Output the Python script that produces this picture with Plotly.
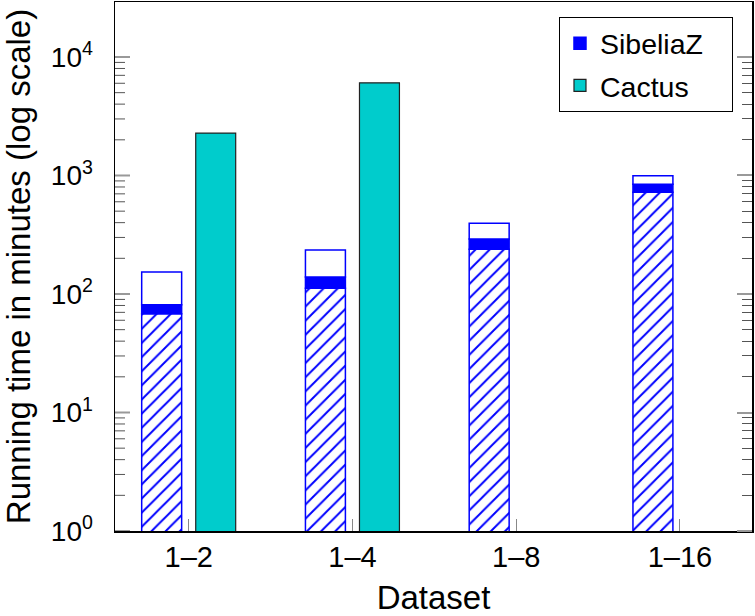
import numpy as np
import plotly.graph_objects as go

datasets = ["1–2", "1–4", "1–8", "1–16"]
sibeliaz_stage1 = [68, 112, 238, 721]   # hatched part
sibeliaz_stage2 = [13, 27, 53, 122]     # solid blue part
sibeliaz_stage3 = [72, 96, 104, 150]    # white part
cactus = [2280, 6050, None, None]

y_tickvals = [1, 10, 100, 1000, 10000]
y_ticktext = ["10<sup>0</sup>", "10<sup>1</sup>", "10<sup>2</sup>", "10<sup>3</sup>", "10<sup>4</sup>"]
y_minor = [m * 10 ** d for d in range(0, 4) for m in range(2, 10)]

x = np.arange(len(datasets))
s1 = np.array(sibeliaz_stage1, dtype=float)
s2 = np.array(sibeliaz_stage2, dtype=float)
s3 = np.array(sibeliaz_stage3, dtype=float)

BLUE = "#0000FF"
CYAN = "#00CCCC"
W = 0.244
PAD = "\u00a0\u00a0\u00a0\u200b"
PLOT_W = 755 - 115 - 3

fig = go.Figure()
fig.add_trace(go.Bar(
    x=x, y=s1, width=W, offset=-0.287, name="SibeliaZ stage 1", showlegend=False,
    marker=dict(color="white", line=dict(color=BLUE, width=1.5),
                pattern=dict(shape="/", fgcolor=BLUE, bgcolor="white", fgopacity=1,
                             size=10, solidity=0.2)),
))
fig.add_trace(go.Bar(
    x=x, y=s2, base=s1, width=W, offset=-0.287, name="SibeliaZ" + PAD, legendgroup="a",
    marker=dict(color=BLUE, line=dict(color=BLUE, width=1.5)),
))
fig.add_trace(go.Bar(
    x=x, y=s3, base=s1 + s2, width=W, offset=-0.287, name="SibeliaZ stage 3", showlegend=False,
    marker=dict(color="white", line=dict(color=BLUE, width=1.5)),
))
fig.add_trace(go.Bar(
    x=x, y=cactus, width=W, offset=0.043, name="Cactus", legendgroup="b",
    marker=dict(color=CYAN, line=dict(color="#222222", width=1.2)),
))

# left-side axis ticks (pointing into the plot), drawn on a pixel-unit helper x axis
def tick_segments(vals, length):
    xs, ys = [], []
    for v in vals:
        xs += [0, length, None]
        ys += [v, v, None]
    return xs, ys

for vals, length, color, width in [(y_tickvals, 15, "#999999", 2), (y_minor, 10, "#555555", 1)]:
    xs, ys = tick_segments(vals, length)
    fig.add_trace(go.Scatter(x=xs, y=ys, xaxis="x2", yaxis="y", mode="lines",
                             line=dict(color=color, width=width), cliponaxis=False,
                             showlegend=False, hoverinfo="skip"))

FONT = "Liberation Sans, Arial, Helvetica, sans-serif"
YRANGE = [0, 4.464]

def tick_axis(vals, side, position, length, color, width):
    return dict(
        type="log", range=YRANGE, overlaying="y", side=side, anchor="free", position=position,
        tickmode="array", tickvals=vals, ticks="outside", ticklen=length,
        tickcolor=color, tickwidth=width, showticklabels=False, showline=False,
        showgrid=False, zeroline=False, automargin=False,
    )

fig.update_layout(
    width=755, height=616,
    margin=dict(l=115, r=3, t=2, b=85, autoexpand=False),
    paper_bgcolor="white", plot_bgcolor="white",
    barmode="overlay",
    font=dict(family=FONT, size=29, color="black"),
    showlegend=True,
    legend=dict(x=0.697, y=0.971, xanchor="left", yanchor="top",
                bordercolor="black", borderwidth=1, bgcolor="white",
                font=dict(size=28.5), traceorder="grouped", tracegroupgap=2),
    xaxis=dict(
        range=[-0.45, 3.44], tickmode="array", tickvals=list(x), ticktext=datasets,
        ticks="inside", ticklen=12, tickcolor="#888888", tickwidth=1,
        showline=True, linecolor="black", linewidth=1.5, mirror=True,
        showgrid=False, zeroline=False, automargin=False,
        title=dict(text="Dataset", font=dict(size=33), standoff=30),
        tickfont=dict(size=29),
    ),
    xaxis2=dict(overlaying="x", range=[0, PLOT_W], visible=False, fixedrange=True),
    yaxis=dict(
        type="log", range=YRANGE,
        tickmode="array", tickvals=y_tickvals, ticktext=y_ticktext,
        ticks="", ticklabelstandoff=15,
        showline=True, linecolor="black", linewidth=1.5, mirror=True,
        showgrid=False, zeroline=False, automargin=False,
        title=dict(text="Running time in minutes (log scale)", font=dict(size=33), standoff=22),
        tickfont=dict(size=28),
    ),
    # tick-only axes for the mirrored ticks on the right side, pointing into the plot
    yaxis4=tick_axis(y_tickvals, "left", 1, 15, "#999999", 2),
    yaxis5=tick_axis(y_minor, "left", 1, 10, "#555555", 1),
)
for ax in ["y4", "y5"]:
    fig.add_trace(go.Scatter(x=[0], y=[1], yaxis=ax, mode="markers",
                             marker=dict(opacity=0), showlegend=False, hoverinfo="skip"))

fig.write_html("out.html", config={"displayModeBar": False, "staticPlot": True},
               post_script="document.body.style.margin='0';document.body.style.overflow='hidden';")
